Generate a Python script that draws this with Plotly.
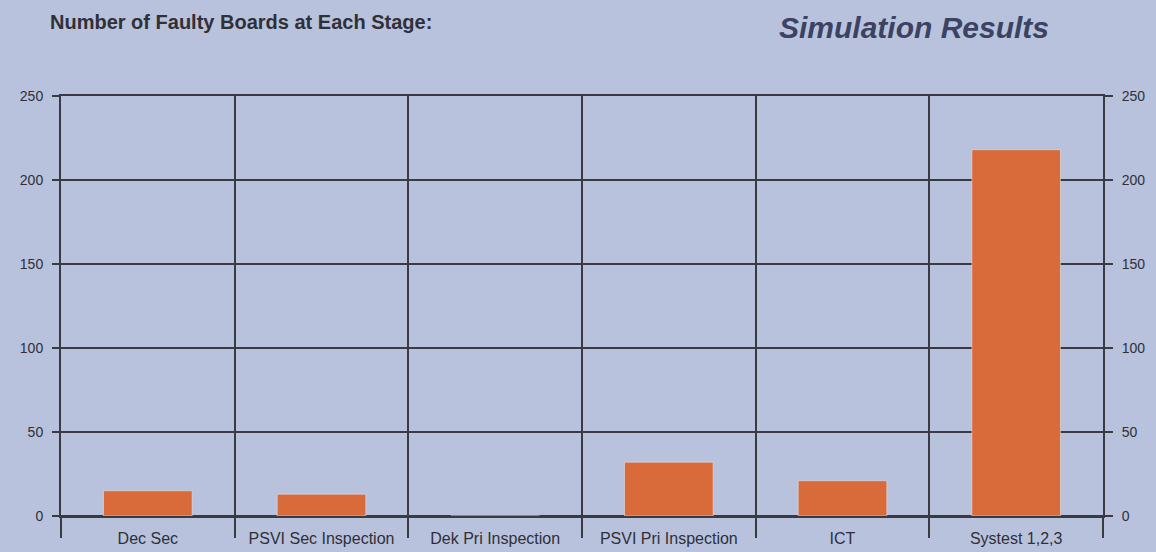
import plotly.graph_objects as go

# Faulty boards counted at each production stage
stages = ["Dec Sec", "PSVI Sec Inspection", "Dek Pri Inspection",
          "PSVI Pri Inspection", "ICT", "Systest 1,2,3"]
faulty_boards = [15, 13, 0, 32, 21, 218]

y_ticks = [0, 50, 100, 150, 200, 250]

bg = "#b8c2dc"
line_col = "#3a3a42"
bar_col = "#d96a3a"
text_col = "#2f3038"
font_family = "Liberation Sans, Arial, sans-serif"

fig = go.Figure()
fig.add_trace(go.Bar(
    x=stages, y=faulty_boards,
    marker=dict(color=bar_col, line=dict(width=0)),
    width=0.51, hoverinfo="x+y",
))

# right-hand axis mirrors the left scale
fig.add_trace(go.Bar(x=stages, y=faulty_boards, yaxis="y2",
                     marker=dict(color="rgba(0,0,0,0)"), width=0.51,
                     hoverinfo="skip", showlegend=False))

fig.update_layout(
    width=1156, height=552,
    paper_bgcolor=bg, plot_bgcolor=bg,
    margin=dict(l=61, r=53, t=96, b=36),
    showlegend=False,
    font=dict(family=font_family, size=13, color=text_col),
    xaxis=dict(
        type="category", tickson="boundaries", automargin=False,
        showgrid=True, gridcolor=line_col, gridwidth=2,
        ticks="outside", ticklen=20, tickwidth=2, tickcolor=line_col,
        ticklabelstandoff=7,
        tickfont=dict(size=16, color=text_col),
        showline=True, mirror=True, linecolor=line_col, linewidth=2,
        zeroline=False,
        range=[-0.5, 5.5],
    ),
    yaxis=dict(
        range=[0, 250], tickvals=y_ticks, automargin=False,
        showgrid=True, gridcolor=line_col, gridwidth=2,
        ticks="outside", ticklen=7, tickwidth=2, tickcolor=line_col,
        ticklabelstandoff=6,
        showline=True, linecolor=line_col, linewidth=2,
        zeroline=True, zerolinecolor=line_col, zerolinewidth=2,
        tickfont=dict(size=14, color=text_col),
    ),
    yaxis2=dict(
        range=[0, 250], tickvals=y_ticks, overlaying="y", side="right",
        automargin=False,
        showgrid=False, zeroline=False,
        showline=True, linecolor=line_col, linewidth=2,
        ticks="outside", ticklen=8, tickwidth=2, tickcolor=line_col,
        ticklabelstandoff=6,
        tickfont=dict(size=14, color=text_col),
    ),
)

fig.add_annotation(
    text="<b>Number of Faulty Boards at Each Stage:</b>",
    xref="paper", yref="paper", x=(48 - 61) / 1042, y=1 + (96 - 22) / 420,
    xanchor="left", yanchor="middle", showarrow=False,
    font=dict(size=20, color="#303038", family=font_family),
)
fig.add_annotation(
    text="<b><i>Simulation Results</i></b>",
    xref="paper", yref="paper", x=(914 - 61) / 1042, y=1 + (96 - 28) / 420,
    xanchor="center", yanchor="middle", showarrow=False,
    font=dict(size=30, color="#3b4262", family=font_family),
)

fig.write_html("out.html")
